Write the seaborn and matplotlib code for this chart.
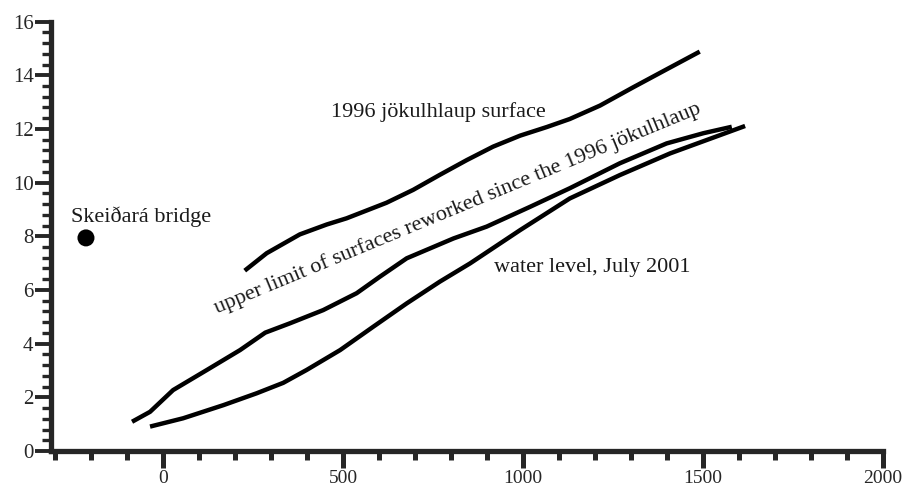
import numpy as np
import pandas as pd
import matplotlib
matplotlib.use("Agg")
import matplotlib.pyplot as plt
from matplotlib.ticker import MultipleLocator
from matplotlib.transforms import ScaledTranslation
import seaborn as sns

# --- profile data (distance, m  /  elevation, m) ---
surface_1996_x = [227, 288, 380, 455, 510, 621, 695, 769, 844, 917, 992, 1066, 1130, 1214, 1306, 1399, 1491]
surface_1996_y = [6.72, 7.37, 8.07, 8.44, 8.67, 9.25, 9.73, 10.29, 10.84, 11.34, 11.75, 12.07, 12.37, 12.87, 13.55, 14.22, 14.88]

reworked_x = [-86, -36, 28, 122, 214, 284, 353, 445, 538, 602, 677, 807, 899, 1020, 1130, 1269, 1399, 1501, 1580]
reworked_y = [1.09, 1.46, 2.27, 3.02, 3.76, 4.41, 4.76, 5.25, 5.88, 6.49, 7.18, 7.92, 8.36, 9.10, 9.79, 10.72, 11.46, 11.84, 12.08]

water_x = [-36, 56, 168, 260, 334, 399, 492, 584, 677, 769, 853, 992, 1130, 1269, 1409, 1617]
water_y = [0.91, 1.22, 1.71, 2.15, 2.54, 3.02, 3.76, 4.63, 5.50, 6.31, 6.99, 8.23, 9.41, 10.28, 11.09, 12.11]

bridge_x = [-214]
bridge_y = [7.94]

sns.set_style("ticks")
plt.rcParams['font.family'] = ['Liberation Serif', 'DejaVu Serif']

fig = plt.figure(figsize=(9.02, 4.88), dpi=100)
ax = fig.add_axes([0.0562, 0.0758, 0.9227, 0.880])

for xs, ys in [(surface_1996_x, surface_1996_y), (reworked_x, reworked_y), (water_x, water_y)]:
    sns.lineplot(x=xs, y=ys, ax=ax, sort=False, color='black', linewidth=3.2,
                 solid_capstyle='butt', solid_joinstyle='round', estimator=None)

sns.scatterplot(x=bridge_x, y=bridge_y, ax=ax, color='black', s=150, edgecolor='none', zorder=5)

txt_color = '#1a1a1a'
ax.text(-61, 8.72, 'Skeiðará bridge', ha='center', va='center', fontsize=16, color=txt_color)
ax.text(764, 12.63, '1996 jökulhlaup surface', ha='center', va='center', fontsize=16, color=txt_color)
ax.text(1192, 6.84, 'water level, July 2001', ha='center', va='center', fontsize=16, color=txt_color)
ax.text(819, 9.05, 'upper limit of surfaces reworked since the 1996 jökulhlaup',
        ha='center', va='center', rotation=22.5, rotation_mode='anchor', fontsize=16, color=txt_color)

ax.set_xlim(-312, 2000)
ax.set_ylim(0, 16)
ax.xaxis.set_major_locator(MultipleLocator(500))
ax.xaxis.set_minor_locator(MultipleLocator(100))
ax.yaxis.set_major_locator(MultipleLocator(2))
ax.yaxis.set_minor_locator(MultipleLocator(0.4))

sns.despine(ax=ax)
for side in ['left', 'bottom']:
    ax.spines[side].set_linewidth(3.8)
    ax.spines[side].set_capstyle('projecting')
ax.tick_params(axis='x', which='major', length=12, width=3.6, labelsize=14, pad=1.5)
ax.tick_params(axis='x', which='minor', length=6.5, width=3.6)
ax.tick_params(axis='y', which='major', length=11.3, width=2.8, labelsize=15, pad=1)
ax.tick_params(axis='y', which='minor', length=6.5, width=2.4)
ax.set_xlabel('')
ax.set_ylabel('')

# keep the last x label inside the canvas, as in the original
last = ax.xaxis.get_major_ticks()[-1].label1
last.set_transform(last.get_transform() + ScaledTranslation(-4 / 72, 0, fig.dpi_scale_trans))

fig.savefig('out.png', dpi=100)
